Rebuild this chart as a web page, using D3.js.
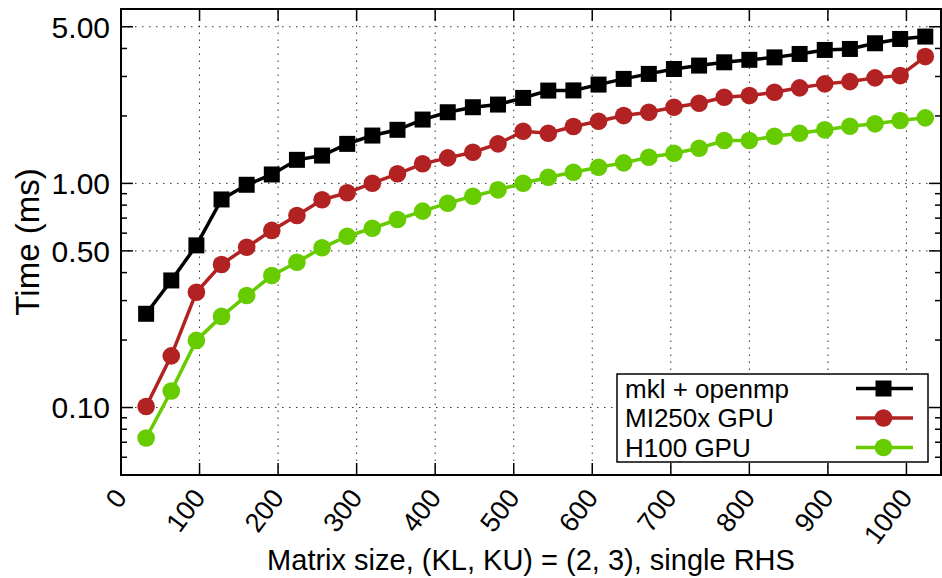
<!DOCTYPE html>
<html lang="en">
<head>
<meta charset="UTF-8">
<title>Banded solver timing</title>
<script src="https://d3js.org/d3.v7.min.js"></script>
<style>
  body { margin: 0; background: #fff; }
  svg { display: block; font-family: "Liberation Sans", Arial, Helvetica, sans-serif; }
</style>
</head>
<body>
<div id="chart"></div>
<script>
  // Data
  const matrixSizes = [32, 64, 96, 128, 160, 192, 224, 256, 288, 320, 352, 384, 416, 448, 480, 512,
                       544, 576, 608, 640, 672, 704, 736, 768, 800, 832, 864, 896, 928, 960, 992, 1024];
  const mklTimes = [0.262, 0.369, 0.529, 0.848, 0.986, 1.096, 1.274, 1.331, 1.501, 1.635, 1.734, 1.927, 2.077, 2.187, 2.248, 2.407,
                    2.595, 2.6, 2.76, 2.926, 3.08, 3.24, 3.355, 3.47, 3.56, 3.65, 3.78, 3.94, 3.98, 4.22, 4.41, 4.52];
  const mi250xTimes = [0.101, 0.170, 0.327, 0.435, 0.519, 0.617, 0.719, 0.845, 0.908, 1.002, 1.104, 1.223, 1.30, 1.377, 1.501, 1.709,
                       1.674, 1.794, 1.894, 2.007, 2.077, 2.187, 2.279, 2.423, 2.465, 2.551, 2.669, 2.78, 2.846, 2.957, 3.027, 3.68];
  const h100Times = [0.0731, 0.1185, 0.1993, 0.255, 0.316, 0.388, 0.445, 0.516, 0.581, 0.631, 0.690, 0.752, 0.816, 0.877, 0.936, 1.002,
                     1.066, 1.122, 1.181, 1.235, 1.309, 1.363, 1.435, 1.553, 1.553, 1.623, 1.674, 1.734, 1.80, 1.844, 1.907, 1.961];

  const seriesNames = ["mkl + openmp", "MI250x GPU", "H100 GPU"];
  const seriesColors = ["#000000", "#b22222", "#66cc00"];
  const seriesMarkers = ["square", "circle", "circle"];

  const xTickValues = [0, 100, 200, 300, 400, 500, 600, 700, 800, 900, 1000];
  const yTickValues = [0.1, 0.5, 1, 5];
  const yTickLabels = ["0.10", "0.50", "1.00", "5.00"];
  const yMinorValues = [0.06, 0.07, 0.08, 0.09, 0.2, 0.3, 0.4, 0.6, 0.7, 0.8, 0.9, 2, 3, 4];

  const xLabel = "Matrix size, (KL, KU) = (2, 3), single RHS";
  const yLabel = "Time (ms)";

  const width = 942, height = 578;
  const margin = { top: 9, right: 1, bottom: 103, left: 121 };
  const plotW = width - margin.left - margin.right;
  const plotH = height - margin.top - margin.bottom;

  const svg = d3.select("#chart").append("svg")
    .attr("width", width)
    .attr("height", height);

  const x = d3.scaleLinear().domain([0, 1044]).range([margin.left, margin.left + plotW]);
  const y = d3.scaleLog().domain([0.05, 6]).range([margin.top + plotH, margin.top]);

  const pLeft = margin.left, pRight = margin.left + plotW;
  const pTop = margin.top, pBottom = margin.top + plotH;

  // grid
  const grid = svg.append("g")
    .attr("stroke", "#333")
    .attr("stroke-width", 1)
    .attr("stroke-dasharray", "1.5,5.5");
  grid.selectAll(".vgrid")
    .data(xTickValues.filter(d => d > 0))
    .enter().append("line")
    .attr("x1", d => x(d)).attr("x2", d => x(d))
    .attr("y1", pBottom).attr("y2", pTop);
  grid.selectAll(".hgrid")
    .data(yTickValues)
    .enter().append("line")
    .attr("x1", pLeft).attr("x2", pRight)
    .attr("y1", d => y(d)).attr("y2", d => y(d));

  // ticks (inward, mirrored on all four sides)
  const ticks = svg.append("g").attr("stroke", "#000").attr("stroke-width", 1.5);
  xTickValues.forEach(v => {
    ticks.append("line").attr("x1", x(v)).attr("x2", x(v)).attr("y1", pBottom).attr("y2", pBottom - 12);
    ticks.append("line").attr("x1", x(v)).attr("x2", x(v)).attr("y1", pTop).attr("y2", pTop + 12);
  });
  yTickValues.forEach(v => {
    ticks.append("line").attr("x1", pLeft).attr("x2", pLeft + 12).attr("y1", y(v)).attr("y2", y(v));
    ticks.append("line").attr("x1", pRight).attr("x2", pRight - 12).attr("y1", y(v)).attr("y2", y(v));
  });
  yMinorValues.forEach(v => {
    ticks.append("line").attr("x1", pLeft).attr("x2", pLeft + 6).attr("y1", y(v)).attr("y2", y(v));
    ticks.append("line").attr("x1", pRight).attr("x2", pRight - 6).attr("y1", y(v)).attr("y2", y(v));
  });

  // border
  svg.append("rect")
    .attr("x", pLeft).attr("y", pTop)
    .attr("width", plotW).attr("height", plotH)
    .attr("fill", "none").attr("stroke", "#000").attr("stroke-width", 2);

  // tick labels
  svg.selectAll(".ylab")
    .data(yTickValues)
    .enter().append("text")
    .attr("x", pLeft - 11)
    .attr("y", d => y(d))
    .attr("dy", "0.36em")
    .attr("text-anchor", "end")
    .attr("font-size", "30px")
    .text((d, i) => yTickLabels[i]);

  svg.selectAll(".xlab")
    .data(xTickValues)
    .enter().append("text")
    .attr("transform", d => `translate(${x(d) + 7},${pBottom + 23}) rotate(-53)`)
    .attr("text-anchor", "end")
    .attr("font-size", "27px")
    .text(d => d);

  // axis titles
  svg.append("text")
    .attr("x", (pLeft + pRight) / 2)
    .attr("y", 570)
    .attr("text-anchor", "middle")
    .attr("font-size", "29px")
    .text(xLabel);

  svg.append("text")
    .attr("transform", `translate(39,242) rotate(-90)`)
    .attr("text-anchor", "middle")
    .attr("font-size", "33px")
    .text(yLabel);

  // series
  const allSeries = [mklTimes, mi250xTimes, h100Times];
  const line = d3.line().x(d => x(d[0])).y(d => y(d[1]));

  function drawMarker(g, kind, cx, cy, color) {
    if (kind === "square") {
      g.append("rect").attr("x", cx - 8).attr("y", cy - 8).attr("width", 16).attr("height", 16).attr("fill", color);
    } else {
      g.append("circle").attr("cx", cx).attr("cy", cy).attr("r", 8.8).attr("fill", color);
    }
  }

  allSeries.forEach((vals, i) => {
    const pts = matrixSizes.map((s, j) => [s, vals[j]]);
    const g = svg.append("g");
    g.append("path")
      .attr("d", line(pts))
      .attr("fill", "none")
      .attr("stroke", seriesColors[i])
      .attr("stroke-width", 3.5);
    pts.forEach(p => drawMarker(g, seriesMarkers[i], x(p[0]), y(p[1]), seriesColors[i]));
  });

  // legend
  const legend = svg.append("g");
  legend.append("rect")
    .attr("x", 617).attr("y", 374)
    .attr("width", 311).attr("height", 88)
    .attr("fill", "#fff").attr("stroke", "#000").attr("stroke-width", 1.5);
  seriesNames.forEach((name, i) => {
    const ly = 388.5 + i * 29.5;
    legend.append("text")
      .attr("x", 625).attr("y", ly)
      .attr("dy", "0.36em")
      .attr("font-size", "26px")
      .text(name);
    legend.append("line")
      .attr("x1", 856).attr("x2", 913)
      .attr("y1", ly).attr("y2", ly)
      .attr("stroke", seriesColors[i]).attr("stroke-width", 3.5);
    drawMarker(legend, seriesMarkers[i], 883.5, ly, seriesColors[i]);
  });
</script>
</body>
</html>
